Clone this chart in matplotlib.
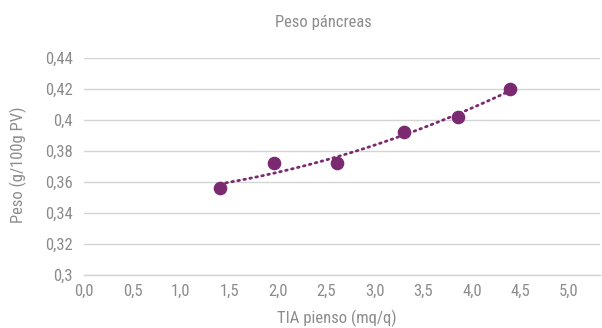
import numpy as np
import matplotlib
matplotlib.use("Agg")
import matplotlib.pyplot as plt
from matplotlib import font_manager as fm

names = {f.name for f in fm.fontManager.ttflist}
fam = None
for cand in ["Liberation Sans Narrow", "DejaVu Sans Condensed", "Roboto Condensed", "Open Sans Condensed"]:
    if cand in names:
        fam = cand
        break
if fam is None:
    fam = "DejaVu Sans"
plt.rcParams['font.family'] = [fam, 'DejaVu Sans']

title = "Peso páncreas"
x_label = "TIA pienso (mq/q)"
y_label = "Peso (g/100g PV)"
tia = [1.40, 1.96, 2.61, 3.30, 3.86, 4.39]
peso = [0.356, 0.372, 0.372, 0.392, 0.402, 0.420]
x_ticks = [0.0, 0.5, 1.0, 1.5, 2.0, 2.5, 3.0, 3.5, 4.0, 4.5, 5.0]
y_ticks = [0.30, 0.32, 0.34, 0.36, 0.38, 0.40, 0.42, 0.44]
y_tick_labels = ["0,3", "0,32", "0,34", "0,36", "0,38", "0,4", "0,42", "0,44"]

purple = "#7b2a72"
grey = "#8c8c8c"

fig = plt.figure(figsize=(6.02, 3.28), dpi=100)
ax = fig.add_axes([84/602, 1-275/328, (600-84)/602, (275-58)/328])

# polynomial (order 2) trendline, Excel-style
coef = np.polyfit(np.array(tia), np.array(peso), 2)
xt = np.linspace(min(tia), max(tia), 100)
ax.plot(xt, np.polyval(coef, xt), color=purple, lw=2.0, ls=(0, (0.6, 1.6)),
        dash_capstyle='round', zorder=3)
ax.plot(tia, peso, 'o', color=purple, ms=8.8, zorder=4)

ax.set_xlim(0, 5.32)
ax.set_ylim(0.30, 0.44)
ax.set_xticks(x_ticks)
ax.set_xticklabels([f"{v:.1f}".replace('.', ',') for v in x_ticks])
ax.set_yticks(y_ticks)
ax.set_yticklabels(y_tick_labels)
ax.grid(axis='y', color='#d4d4d4', lw=1.0)
ax.set_axisbelow(True)
for s in ['top', 'right', 'left']:
    ax.spines[s].set_visible(False)
ax.spines['bottom'].set_color('#d4d4d4')
ax.spines['bottom'].set_linewidth(1.0)
ax.tick_params(axis='both', length=0, labelsize=12, colors=grey)
ax.tick_params(axis='x', pad=6)
ax.tick_params(axis='y', pad=8)

fig.text(323/602, 1-22/328, title, ha='center', va='center', fontsize=12, color=grey)
fig.text(337/602, 1-318/328, x_label, ha='center', va='center', fontsize=12, color=grey)
fig.text(18/602, 1-165/328, y_label, ha='center', va='center', rotation=90, fontsize=12, color=grey)

fig.savefig("out.png", dpi=100)
